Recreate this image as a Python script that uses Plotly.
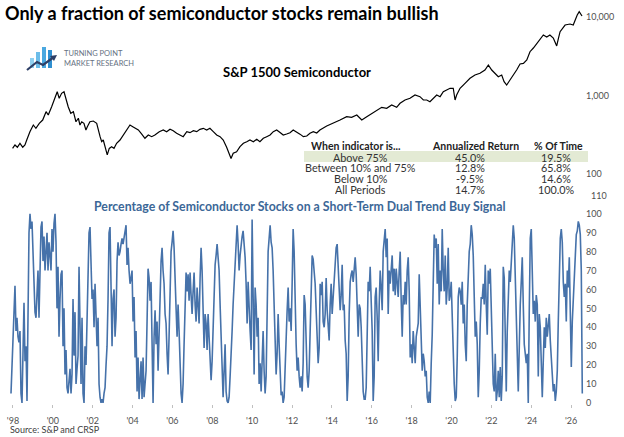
import plotly.graph_objects as go

# S&P 1500 Semiconductor index level (log axis)
price_years = [1997.98, 1998.10, 1998.22, 1998.35, 1998.49, 1998.60, 1998.69, 1998.85, 1999.02, 1999.15,
               1999.32, 1999.49, 1999.66, 1999.77, 1999.94, 2000.11, 2000.22, 2000.32, 2000.44, 2000.56,
               2000.66, 2000.77, 2000.90, 2001.03, 2001.16, 2001.28, 2001.36, 2001.45, 2001.56, 2001.66,
               2001.73, 2001.86, 2002.03, 2002.20, 2002.37, 2002.45, 2002.53, 2002.67, 2002.73, 2002.83,
               2002.95, 2003.07, 2003.20, 2003.37, 2003.53, 2003.71, 2003.87, 2004.01, 2004.12, 2004.29,
               2004.46, 2004.62, 2004.79, 2004.96, 2005.12, 2005.34, 2005.54, 2005.71, 2005.88, 2006.04,
               2006.21, 2006.38, 2006.54, 2006.72, 2006.88, 2007.05, 2007.22, 2007.38, 2007.55, 2007.72,
               2007.88, 2008.05, 2008.22, 2008.39, 2008.55, 2008.72, 2008.85, 2008.94, 2009.05, 2009.22,
               2009.39, 2009.56, 2009.73, 2009.89, 2010.06, 2010.23, 2010.39, 2010.56, 2010.73, 2010.90,
               2011.06, 2011.23, 2011.40, 2011.56, 2011.73, 2011.90, 2012.06, 2012.23, 2012.40, 2012.57,
               2012.74, 2012.90, 2013.07, 2013.24, 2013.40, 2013.74, 2014.07, 2014.41, 2014.74, 2014.99,
               2015.25, 2015.50, 2015.75, 2016.00, 2016.25, 2016.50, 2016.75, 2017.00, 2017.25, 2017.42,
               2017.67, 2017.92, 2018.17, 2018.42, 2018.59, 2018.76, 2018.92, 2019.09, 2019.26, 2019.43,
               2019.59, 2019.76, 2019.93, 2020.09, 2020.18, 2020.26, 2020.43, 2020.68, 2020.93, 2021.18,
               2021.43, 2021.68, 2021.85, 2022.02, 2022.19, 2022.35, 2022.52, 2022.64, 2022.77, 2022.94,
               2023.10, 2023.27, 2023.44, 2023.61, 2023.78, 2023.94, 2024.11, 2024.28, 2024.44, 2024.61,
               2024.78, 2024.94, 2025.11, 2025.28, 2025.37, 2025.45, 2025.70, 2025.95, 2026.11, 2026.20,
               2026.31, 2026.41, 2026.49, 2026.55]
price_values = [212, 234, 219, 246, 219, 234, 271, 346, 421, 382,
                442, 487, 622, 565, 720, 966, 1117, 921, 1067, 1117,
                877, 720, 593, 622, 463, 513, 421, 463, 442, 364,
                401, 463, 473, 442, 299, 258, 271, 202, 175, 212,
                223, 212, 246, 271, 314, 364, 421, 401, 382, 364,
                323, 285, 314, 299, 314, 346, 364, 346, 371, 356,
                330, 314, 299, 346, 336, 356, 346, 371, 382, 364,
                382, 346, 314, 299, 271, 219, 175, 158, 184, 192,
                223, 246, 258, 271, 258, 277, 258, 285, 299, 314,
                346, 364, 338, 314, 323, 336, 364, 346, 322, 299,
                305, 330, 346, 333, 364, 408, 442, 487, 537, 528,
                565, 487, 537, 593, 653, 707, 687, 757, 707, 796,
                877, 921, 1015, 966, 877, 877, 834, 921, 1015, 966,
                1117, 1175, 1236, 1236, 877, 1015, 1236, 1430, 1655, 1824,
                1918, 2113, 2447, 2113, 1918, 1735, 1824, 1500, 1361, 1574,
                1824, 2113, 2518, 2570, 2831, 3614, 4028, 4624, 5093, 5902,
                5559, 5902, 5400, 4274, 5400, 6500, 7907, 8147, 7907, 9162,
                10600, 11700, 10600, 10300]

# % of semiconductor stocks on a short-term dual trend buy signal
osc_start = 1997.90
osc_step = 0.0502
osc_values = [5, 20, 35, 50, 62, 38, 45, 35, 32, 38, 5, 0, 30, 53, 22, 30, 1, 60, 90, 100,
              92, 96, 80, 60, 48, 45, 60, 70, 45, 70, 93, 96, 75, 88, 70, 80, 90, 70, 85, 78,
              70, 92, 80, 95, 100, 85, 50, 72, 35, 55, 68, 70, 30, 50, 15, 28, 8, 5, 12, 18,
              5, 15, 55, 25, 48, 10, 18, 25, 72, 40, 10, 45, 5, 0, 30, 20, 45, 70, 90, 93,
              78, 55, 60, 40, 63, 45, 30, 45, 10, 3, 0, 2, 0, 5, 8, 20, 30, 55, 90, 93,
              48, 30, 55, 60, 35, 45, 75, 85, 78,
              80, 84, 87, 84, 88, 92, 94, 73, 82, 70, 63, 66, 70, 43, 56, 24, 38, 6, 24, 2,
              12, 22, 2, 24, 3, 10, 17, 43, 71, 66, 54, 64, 26, 0, 35, 49, 31, 43, 17, 31,
              55, 75, 82, 70, 63, 47, 42, 26, 15, 35, 70, 80, 85, 91, 82, 70, 50, 35, 52, 38,
              14, 5, 0, 10, 31, 52, 69, 59, 68, 54, 69, 57, 47, 59, 69, 52, 43, 61, 49, 42,
              66, 82, 70, 38, 29, 47, 42, 28, 47, 35, 21, 12, 22, 43, 59, 73, 78, 84, 77, 70,
              52, 31, 10, 3, 17, 31, 6, 1, 0, 3, 14, 24, 38, 52, 63, 77, 89, 94, 84, 70,
              78, 84, 88, 91, 85, 77, 63, 42, 64, 47, 38, 28, 97, 57, 15, 61, 52, 35, 45, 10,
              21, 6, 31, 38, 17, 5, 14, 56, 80, 87, 94, 85, 82, 70, 52, 31, 15, 26, 47, 31,
              12, 4, 6, 0, 3, 22, 35, 49, 61, 43, 50, 38, 63, 92, 80, 52, 31, 17, 24, 14,
              8, 14, 6, 21, 57, 52, 31, 14, 8, 17, 38, 64, 78, 76, 70, 63, 49, 35, 21, 29,
              63, 57, 64, 43, 40, 47, 66, 49, 42, 33, 52, 63, 47, 56, 70, 78, 82, 84, 72, 56,
              49, 57, 73, 49, 52, 33, 26, 1, 14, 47, 64, 68, 70, 64, 74, 77, 68, 47, 35, 52,
              50, 40, 21, 6, 2, 2, 8, 49, 64, 59, 72, 54, 38, 1, 14, 56, 61, 45, 22, 52,
              70, 61, 49, 80, 87, 92, 77, 87, 47, 70, 63, 70, 78, 59, 71, 57, 71, 64, 56, 70,
              80, 54, 35, 57, 52, 64, 52, 70, 77, 59, 24, 31, 21, 38, 29, 21, 35, 38, 42, 68,
              52, 31, 17, 26, 22, 14, 17, 3, 0, 6, 0, 21, 36, 63, 89, 82, 87, 63, 84, 52,
              70, 59, 92, 70, 59, 78, 52, 61, 82, 54, 57, 64, 47, 21, 10, 1, 3, 24, 56, 61,
              59, 52, 64, 42, 52, 31, 22, 52, 70, 80, 84, 94, 89, 78, 56, 35, 43, 31, 3, 17,
              42, 56, 55, 63, 52, 73, 52, 36, 70, 63, 71, 52, 21, 10, 6, 26, 1, 6, 17, 3,
              19, 1, 14, 72, 66, 43, 6, 38, 61, 70, 64, 73, 84, 94, 87, 61, 43, 26, 6, 35,
              52, 64, 77, 52, 31, 26, 21, 26, 0, 49, 87, 92, 70, 47, 54, 43, 57, 52, 14, 47,
              40, 17, 3, 22, 40, 29, 45, 35, 42, 47, 33, 21, 14, 6, 10, 1, 6, 17, 43, 70,
              87, 92, 85, 64, 56, 63, 43, 70, 61, 77, 38, 19, 43, 57, 64, 77, 89, 91, 96, 94,
              89, 70, 5]
osc_years = [osc_start + i * osc_step for i in range(len(osc_values))]

tick_years = list(range(1998, 2027, 2))
tick_labels = ["'98", "'00", "'02", "'04", "'06", "'08", "'10", "'12", "'14", "'16",
               "'18", "'20", "'22", "'24", "'26"]
pct_ticks = list(range(0, 101, 10))
pct_top = 110
log_ticks = [100, 1000, 10000]
log_labels = ["100", "1,000", "10,000"]

# table of returns by indicator regime
table_header = ["When indicator is...", "Annualized Return", "% Of Time"]
table_regimes = ["Above 75%", "Between 10% and 75%", "Below 10%", "All Periods"]
table_returns = ["45.0%", "12.8%", "-9.5%", "14.7%"]
table_time = ["19.5%", "65.8%", "14.6%", "100.0%"]

W, H = 624, 437
L, R, T, B = 8, 39, 5, 33
PW, PH = W - L - R, H - T - B
FONT = "Lato"
TICK_FONT = dict(size=9, color="#505050")

# lower (percent) axis: value 0 sits at pixel row 403, 10 units = 18.9 px
PCT_Y0, PCT_PX = 403, 1.89


def px(x):
    return (x - L) / PW


def py(y):
    return (T + PH - y) / PH


fig = go.Figure()
fig.add_trace(go.Scatter(x=osc_years, y=osc_values, mode="lines",
                         line=dict(color="#4672aa", width=1.6),
                         xaxis="x", yaxis="y", hoverinfo="skip"))
fig.add_trace(go.Scatter(x=price_years, y=price_values, mode="lines",
                         line=dict(color="black", width=1.2),
                         xaxis="x", yaxis="y2", hoverinfo="skip"))

annotations = [
    dict(text="<b>Only a fraction of semiconductor stocks remain bullish</b>",
         x=px(3), y=py(13), xanchor="left", yanchor="middle",
         font=dict(size=18, color="black")),
    dict(text="<b>S&P 1500 Semiconductor</b>", x=px(297), y=py(72),
         xanchor="center", yanchor="middle", font=dict(size=13, color="black")),
    dict(text="<b>Percentage of Semiconductor Stocks on a Short-Term Dual Trend Buy Signal</b>",
         x=px(300), y=py(206), xanchor="center", yanchor="middle",
         font=dict(size=12.3, color="#3c6797")),
    dict(text="TURNING POINT", x=px(62), y=py(53), xanchor="left", yanchor="middle",
         font=dict(size=7.5, color="#66717f")),
    dict(text="MARKET RESEARCH", x=px(62), y=py(63), xanchor="left", yanchor="middle",
         font=dict(size=7.5, color="#66717f")),
    dict(text="Source: S&P and CRSP", x=px(8), y=py(430), xanchor="left", yanchor="middle",
         font=dict(size=9, color="#404040")),
    # top label of the percent axis (plotly does not draw it next to the log axis)
    dict(text=str(pct_top), x=px(589), y=py(PCT_Y0 - pct_top * PCT_PX),
         xanchor="left", yanchor="middle", font=TICK_FONT),
]

col_x = [361, 470, 556]
head_x = [356, 475, 558]
for cx, h in zip(head_x, table_header):
    annotations.append(dict(text="<b>" + h + "</b>", x=px(cx), y=py(146),
                            xanchor="center", yanchor="middle", height=10, borderpad=0,
                            font=dict(size=10.5, color="#222222")))
row_y = [156.5, 167, 178, 189]
for i in range(len(table_regimes)):
    for cx, txt in zip(col_x, [table_regimes[i], table_returns[i], table_time[i]]):
        annotations.append(dict(text=txt, x=px(cx), y=py(row_y[i]),
                                xanchor="center", yanchor="middle", height=10, borderpad=0,
                                font=dict(size=10.8, color="#333333")))

for a in annotations:
    a.update(xref="paper", yref="paper", showarrow=False)

shapes = [
    dict(type="rect", xref="paper", yref="paper", x0=px(304), x1=px(588),
         y0=py(162), y1=py(151), fillcolor="#e3ead4", line=dict(width=0), layer="below"),
]
# logo bars and arrow
bar_specs = [(30, 34, 58, "#8fd0f0"), (36, 40, 52, "#6cbde9"),
             (42, 46, 47, "#4aa8e0"), (48, 52, 50, "#2f8fd0")]
for x0, x1, top, col in bar_specs:
    shapes.append(dict(type="rect", xref="paper", yref="paper", x0=px(x0), x1=px(x1),
                       y0=py(68), y1=py(top), fillcolor=col, line=dict(width=0)))
shapes.append(dict(type="path", xref="paper", yref="paper",
                   path="M %f %f L %f %f L %f %f L %f %f" % (px(27), py(70), px(37), py(62),
                                                            px(43), py(65), px(54), py(57)),
                   line=dict(color="#2d3f66", width=2.2)))
shapes.append(dict(type="path", xref="paper", yref="paper",
                   path="M %f %f L %f %f L %f %f Z" % (px(50), py(56), px(57), py(55),
                                                      px(54), py(61)),
                   fillcolor="#2d3f66", line=dict(width=0)))

fig.update_layout(
    width=W, height=H,
    margin=dict(l=L, r=R, t=T, b=B),
    paper_bgcolor="white", plot_bgcolor="rgba(0,0,0,0)",
    showlegend=False,
    font=dict(family=FONT, color="#404040"),
    xaxis=dict(range=[1997.75, 2026.70], tickvals=tick_years, ticktext=tick_labels,
               showgrid=False, zeroline=False, showline=False,
               ticks="outside", ticklen=3, tickcolor="#bfbfbf", ticklabelstandoff=5,
               tickfont=TICK_FONT, anchor="y"),
    yaxis=dict(domain=[0, py(194)], range=[-0.6, 110.5], tickvals=pct_ticks, side="right",
               showgrid=False, zeroline=False, showline=False, anchor="x",
               tickfont=TICK_FONT),
    yaxis2=dict(domain=[0, 1], type="log", range=[-0.93, 4.153],
                tickvals=log_ticks, ticktext=log_labels,
                side="right", showgrid=False, zeroline=False, showline=False, anchor="x",
                tickfont=TICK_FONT),
    annotations=annotations,
    shapes=shapes,
)

# the page body has a default 8px margin; drop it so the figure sits at the corner
fig.write_html("out.html", config={"displayModeBar": False},
               post_script="document.body.style.margin='0px';")
